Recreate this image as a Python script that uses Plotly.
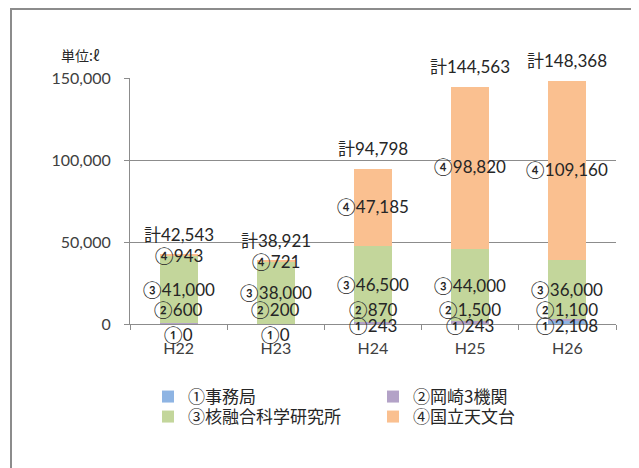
import plotly.graph_objects as go

# ---------------- data ----------------
categories = ["H22", "H23", "H24", "H25", "H26"]
series_names = ["①事務局", "②岡崎3機関", "③核融合科学研究所", "④国立天文台"]
s1_jimukyoku = [0, 0, 243, 243, 2108]
s2_okazaki = [600, 200, 870, 1500, 1100]
s3_kakuyugo = [41000, 38000, 46500, 44000, 36000]
s4_tenmondai = [943, 721, 47185, 98820, 109160]
y_tick_values = [0, 50000, 100000, 150000]
y_tick_labels = ["0", "50,000", "100,000", "150,000"]
unit_label = "単位:ℓ"

series_values = [s1_jimukyoku, s2_okazaki, s3_kakuyugo, s4_tenmondai]
colors = ["#8EB4E3", "#B3A2C7", "#C3D69B", "#FAC090"]
circled = ["①", "②", "③", "④"]
legend_ids = ["legend", "legend", "legend2", "legend2"]

# ---------------- layout (window pixel coords; page body has 8px margin) ----------------
OFF = 8
WIDTH, HEIGHT = 631, 460
PL, PT, PW, PH = 130 - OFF, 78 - OFF, 486, 246
MR = WIDTH - PL - PW
MB = HEIGHT - PT - PH

def px_x(wx):
    return (wx - OFF - PL) / PW

def px_y(wy):
    return (PT + PH - (wy - OFF)) / PH

NUM_FONT = "Lato, 'Noto Sans CJK JP', sans-serif"
JP_FONT = "'Noto Sans CJK JP', sans-serif"
LABEL_COLOR = "#262626"
AXIS_TEXT = "#404040"
GRID = "#8C8C8C"

fig = go.Figure()
for name, vals, col, lg in zip(series_names, series_values, colors, legend_ids):
    fig.add_trace(go.Bar(
        name=name, x=categories, y=vals, legend=lg,
        marker=dict(color=col, line=dict(width=0)),
        hoverinfo="x+y+name",
    ))

annotations = []
def fmt(v):
    return f"{v:,}"

for i, cat in enumerate(categories):
    v1, v2, v3, v4 = (s[i] for s in series_values)
    total = v1 + v2 + v3 + v4
    annotations.append(dict(x=cat, y=0, text=circled[0] + fmt(v1),
                            yshift=-10 if v1 == 0 else -1))
    annotations.append(dict(x=cat, y=0, text=circled[1] + fmt(v2), yshift=15))
    annotations.append(dict(x=cat, y=v1 + v2 + v3 / 2, text=circled[2] + fmt(v3), yshift=0))
    if v4 < 5000:
        annotations.append(dict(x=cat, y=total, text=circled[3] + fmt(v4), yshift=-1))
    else:
        annotations.append(dict(x=cat, y=v1 + v2 + v3 + v4 / 2, text=circled[3] + fmt(v4), yshift=1))
    annotations.append(dict(x=cat, y=total, text="計" + fmt(total), yshift=20))

for a in annotations:
    a.update(xref="x", yref="y", showarrow=False, xanchor="center", yanchor="middle",
             font=dict(family=NUM_FONT, size=17, color=LABEL_COLOR))

annotations.append(dict(xref="paper", yref="paper", x=px_x(80), y=px_y(55),
                        xanchor="center", yanchor="middle",
                        text=unit_label, showarrow=False,
                        font=dict(family=JP_FONT, size=14, color="#262626")))

shapes = [
    dict(type="line", xref="paper", yref="paper", x0=px_x(10), x1=px_x(700),
         y0=px_y(9), y1=px_y(9), line=dict(color="#8C8C8C", width=2)),
    dict(type="line", xref="paper", yref="paper", x0=px_x(11), x1=px_x(11),
         y0=px_y(9), y1=px_y(520), line=dict(color="#8C8C8C", width=2)),
]

legend_common = dict(orientation="h", xanchor="left", yanchor="top",
                     traceorder="normal", entrywidth=180,
                     font=dict(family=JP_FONT, size=17, color="#262626"),
                     bgcolor="rgba(0,0,0,0)")

fig.update_layout(
    width=WIDTH, height=HEIGHT,
    barmode="stack", bargap=0.61,
    margin=dict(l=PL, r=MR, t=PT, b=MB, autoexpand=False),
    plot_bgcolor="white", paper_bgcolor="white",
    annotations=annotations, shapes=shapes,
    showlegend=True,
    legend=dict(x=px_x(148), y=px_y(379), **legend_common),
    legend2=dict(x=px_x(148), y=px_y(399), **legend_common),
    xaxis=dict(showline=True, linecolor=GRID, linewidth=1, ticks="outside",
               tickson="boundaries", ticklen=5, tickcolor=GRID,
               ticklabelstandoff=10,
               tickfont=dict(family=NUM_FONT, size=16, color=AXIS_TEXT)),
    yaxis=dict(range=[0, 150000], tickvals=y_tick_values, ticktext=y_tick_labels,
               showgrid=True, gridcolor=GRID, gridwidth=1,
               showline=True, linecolor=GRID, linewidth=1,
               ticks="outside", ticklen=5, tickcolor=GRID,
               ticklabelstandoff=10, zeroline=False,
               tickfont=dict(family=NUM_FONT, size=16, color=AXIS_TEXT)),
)

fig.write_html("out.html")
